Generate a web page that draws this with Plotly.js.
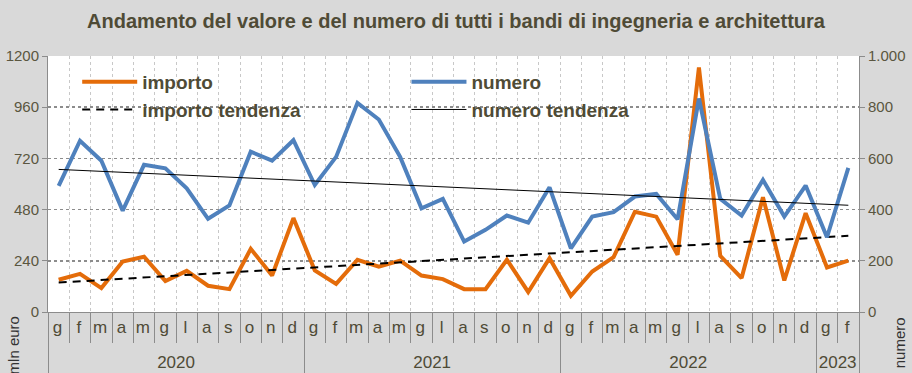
<!DOCTYPE html>
<html>
<head>
<meta charset="utf-8">
<script src="https://cdn.plot.ly/plotly-3.0.1.min.js"></script>
<style>html,body{margin:0;padding:0;background:#d9d9d9;}#chart{width:912px;height:373px;}</style>
</head>
<body>
<div id="chart"></div>
<script>
// Category labels (second occurrence of a repeated initial carries a zero-width space so it stays a separate category)
var years = ["2020","2020","2020","2020","2020","2020","2020","2020","2020","2020","2020","2020",
             "2021","2021","2021","2021","2021","2021","2021","2021","2021","2021","2021","2021",
             "2022","2022","2022","2022","2022","2022","2022","2022","2022","2022","2022","2022",
             "2023","2023"];
var monthsOneYear = ["g","f","m","a","m\u200b","g\u200b","l","a\u200b","s","o","n","d"];
var months = monthsOneYear.concat(monthsOneYear, monthsOneYear, ["g","f"]);

// importo (mln euro, left axis)
var importo = [151,179,112,237,259,145,193,123,107,296,171,440,
               195,132,245,213,241,171,154,107,107,245,94,252,
               76,190,257,470,447,268,1146,263,159,538,148,463,
               209,241];
// numero (right axis)
var numero = [493,669,591,396,575,561,483,364,416,626,591,671,
              496,606,817,752,606,405,442,275,321,377,349,487,
              249,373,390,451,461,362,834,442,377,516,373,494,
              292,563];
// trend lines, values at first and last month
var importoTrend = [138,357];
var numeroTrend = [557,417];

var leftTicks = [0,240,480,720,960,1200];
var rightTicks = [0,200,400,600,800,1000];
var rightTickText = ["0","200","400","600","800","1.000"];

// a tall hair-space strut after each month letter makes the month row taller, so the year row sits lower
var strut = "<span style='font-size:30px'>\u200a</span>";
var monthLabels = months.map(function (m) { return m + strut; });

var n = months.length;
var xs = [years, monthLabels];
var xTrend = [[years[0], years[n-1]], [monthLabels[0], monthLabels[n-1]]];

var textCol = "#4f4b36";
var tickCol = "#5a5640";
var axisGray = "#8c8c8c";

var traces = [
  {x: xs, y: numero, yaxis: "y2", name: "numero", type: "scatter", mode: "lines",
   line: {color: "#4f81bd", width: 4}, legend: "legend2"},
  {x: xs, y: importo, yaxis: "y", name: "importo", type: "scatter", mode: "lines",
   line: {color: "#e46c0a", width: 4}, legend: "legend"},
  {x: xTrend, y: importoTrend, yaxis: "y", name: "importo tendenza", type: "scatter", mode: "lines",
   line: {color: "#000000", width: 2, dash: "8px,6px"}, legend: "legend"},
  {x: xTrend, y: numeroTrend, yaxis: "y2", name: "numero tendenza", type: "scatter", mode: "lines",
   line: {color: "#000000", width: 1}, legend: "legend2"}
];

var legendFont = {family: "Liberation Sans, Arial, sans-serif", size: 19, color: textCol, weight: "bold"};

var layout = {
  width: 912, height: 373,
  paper_bgcolor: "#d9d9d9",
  plot_bgcolor: "#ffffff",
  margin: {l: 48, r: 53, t: 56, b: 61},
  showlegend: true,
  title: {text: "<b>Andamento del valore e del numero di tutti i bandi di ingegneria e architettura</b>",
          font: {family: "Liberation Sans, Arial, sans-serif", size: 20, color: textCol},
          x: 0.5, xanchor: "center", y: 0.945, yref: "container", yanchor: "middle"},
  xaxis: {
    type: "multicategory",
    range: [-0.5, n - 0.5], autorange: false,
    showgrid: true, gridcolor: "#c8c8c8", griddash: "dot", gridwidth: 1,
    tickson: "boundaries",
    ticks: "outside", ticklen: 30, tickcolor: axisGray, tickwidth: 1, tickangle: 0,
    ticklabelstandoff: 0,
    showdividers: true, dividercolor: axisGray, dividerwidth: 1,
    showline: true, linecolor: axisGray, linewidth: 1,
    tickfont: {family: "Liberation Sans Narrow, Arial Narrow, Liberation Sans, sans-serif", size: 17, color: textCol},
    zeroline: false, fixedrange: true
  },
  yaxis: {
    range: [0, 1200], tickvals: leftTicks, ticktext: leftTicks.map(String),
    showgrid: true, gridcolor: axisGray, griddash: "dot", gridwidth: 1.5,
    ticks: "outside", ticklen: 5, tickcolor: axisGray,
    showline: true, linecolor: axisGray, linewidth: 1, zeroline: false,
    tickfont: {family: "Liberation Sans, Arial, sans-serif", size: 15, color: tickCol},
    fixedrange: true
  },
  yaxis2: {
    range: [0, 1000], overlaying: "y", side: "right",
    tickvals: rightTicks, ticktext: rightTickText,
    showgrid: false, ticks: "outside", ticklen: 5, tickcolor: axisGray,
    showline: true, linecolor: axisGray, linewidth: 1, zeroline: false,
    tickfont: {family: "Liberation Sans, Arial, sans-serif", size: 15, color: tickCol},
    fixedrange: true
  },
  legend: {x: 0.036, y: 0.973, xanchor: "left", yanchor: "top", bgcolor: "rgba(0,0,0,0)",
           font: legendFont, itemwidth: 55, tracegroupgap: 0, orientation: "v", traceorder: "normal"},
  legend2: {x: 0.442, y: 0.973, xanchor: "left", yanchor: "top", bgcolor: "rgba(0,0,0,0)",
            font: legendFont, itemwidth: 55, tracegroupgap: 0, orientation: "v", traceorder: "normal"},
  annotations: [
    {text: "mln euro", xref: "paper", yref: "paper", x: -0.043, y: -0.13, textangle: -90,
     showarrow: false, xanchor: "center", yanchor: "middle",
     font: {family: "Liberation Sans, Arial, sans-serif", size: 15, color: "#333333"}},
    {text: "numero", xref: "paper", yref: "paper", x: 1.05, y: -0.12, textangle: -90,
     showarrow: false, xanchor: "center", yanchor: "middle",
     font: {family: "Liberation Sans, Arial, sans-serif", size: 15, color: "#333333"}}
  ]
};

Plotly.newPlot("chart", traces, layout, {displayModeBar: false, staticPlot: true});
</script>
</body>
</html>
